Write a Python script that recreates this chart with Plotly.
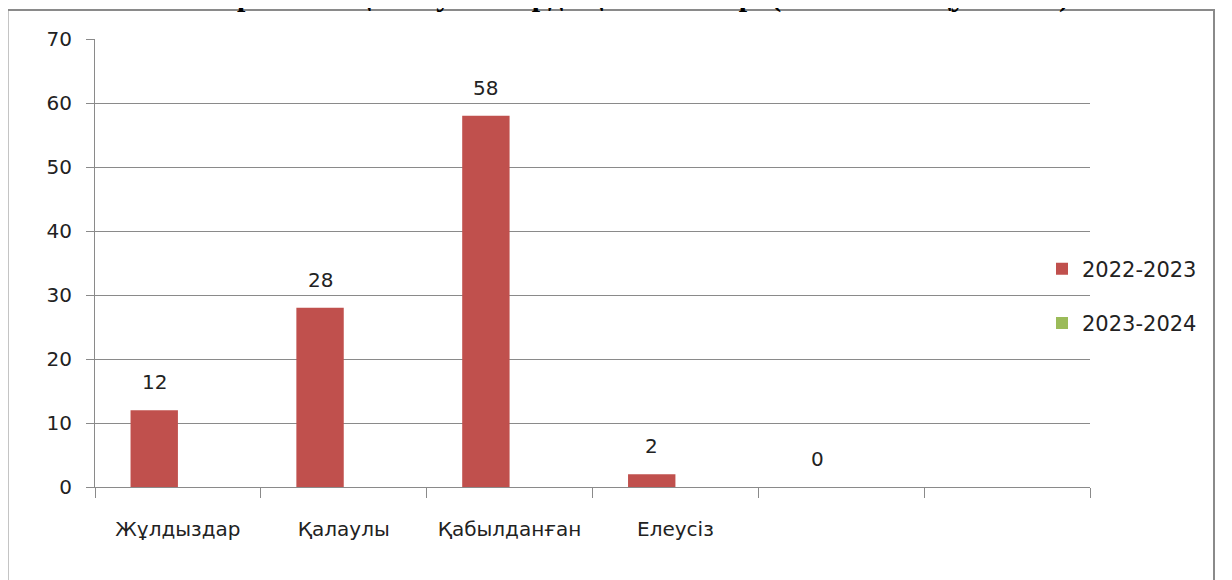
import plotly.graph_objects as go

categories = ["Жұлдыздар", "Қалаулы", "Қабылданған", "Елеусіз", " ", "  "]
series_names = ["2022-2023", "2023-2024"]
values_2022 = [12, 28, 58, 2, 0, None]
values_2023 = [None, None, None, None, None, None]
title_text = "Эссе жарысына қатысушылардың нәтижелері (2022-2023 оқу жылы)"

colors = ["#C0504D", "#9BBB59"]
FONT = "DejaVu Sans"
W, H = 1232, 580
OFF = 8  # page body margin
# plot area in page pixels
PX0, PX1, PY0, PY1 = 95, 1090, 39, 487
ML, MT = PX0 - OFF, PY0 - OFF
MR = W - (PX1 - OFF)
MB = H - (PY1 - OFF)
plot_w = PX1 - PX0
plot_h = PY1 - PY0


def px(xp):
    return (xp - PX0) / plot_w


def py(yp):
    return (PY1 - yp) / plot_h


fig = go.Figure()
for i, (name, vals) in enumerate(zip(series_names, [values_2022, values_2023])):
    fig.add_trace(go.Bar(
        x=categories, y=vals, name=name,
        marker=dict(color=colors[i], line=dict(width=0)),
        legendgroup=name,
    ))

bargap = 1.5 / 3.5
cat_px = plot_w / len(categories)
bar_px = cat_px * (1 - bargap) / 2

annotations = []
for c, v in zip(categories, values_2022):
    if v is None:
        continue
    annotations.append(dict(
        x=c, y=v, xref="x", yref="y", text=str(v), showarrow=False,
        xshift=-bar_px / 2, yshift=28, font=dict(family=FONT, size=20, color="#222"),
    ))

# title (mostly clipped off the top of the page)
annotations.append(dict(
    x=px(600), y=py(14), xref="paper", yref="paper",
    text="<b>" + title_text + "</b>", showarrow=False, xanchor="center", yanchor="bottom",
    borderpad=0, font=dict(family="Liberation Serif", size=30, color="#000"),
))

shapes = [dict(
    type="rect", xref="paper", yref="paper",
    x0=px(7.5), x1=px(1214),
    y0=py(620), y1=py(10),
    line=dict(color="#8a8a8a", width=2), fillcolor="rgba(0,0,0,0)", layer="below",
)]

fig.update_layout(
    width=W, height=H,
    margin=dict(l=ML, r=MR, t=MT, b=MB, autoexpand=False),
    paper_bgcolor="white", plot_bgcolor="white",
    barmode="group", bargap=bargap, bargroupgap=0,
    font=dict(family=FONT, size=20, color="#222"),
    showlegend=True,
    legend=dict(
        x=px(1042), y=py(296), xanchor="left", yanchor="middle",
        font=dict(family=FONT, size=21, color="#222"),
        tracegroupgap=24, traceorder="grouped", bgcolor="rgba(0,0,0,0)",
    ),
    annotations=annotations,
    shapes=shapes,
)
fig.update_xaxes(
    type="category", tickson="boundaries", ticks="outside", ticklen=10,
    tickcolor="#8a8a8a", showline=True, linecolor="#8a8a8a", linewidth=1,
    showgrid=False, ticklabelstandoff=24, tickfont=dict(family=FONT, size=20, color="#222"),
)
fig.update_yaxes(
    range=[0, 70], dtick=10, ticks="outside", ticklen=8, tickcolor="#8a8a8a",
    showline=True, linecolor="#8a8a8a", linewidth=1,
    showgrid=True, gridcolor="#8a8a8a", gridwidth=1, zeroline=False,
    ticklabelstandoff=10, tickfont=dict(family=FONT, size=20, color="#222"),
)

fig.write_html("out.html")
